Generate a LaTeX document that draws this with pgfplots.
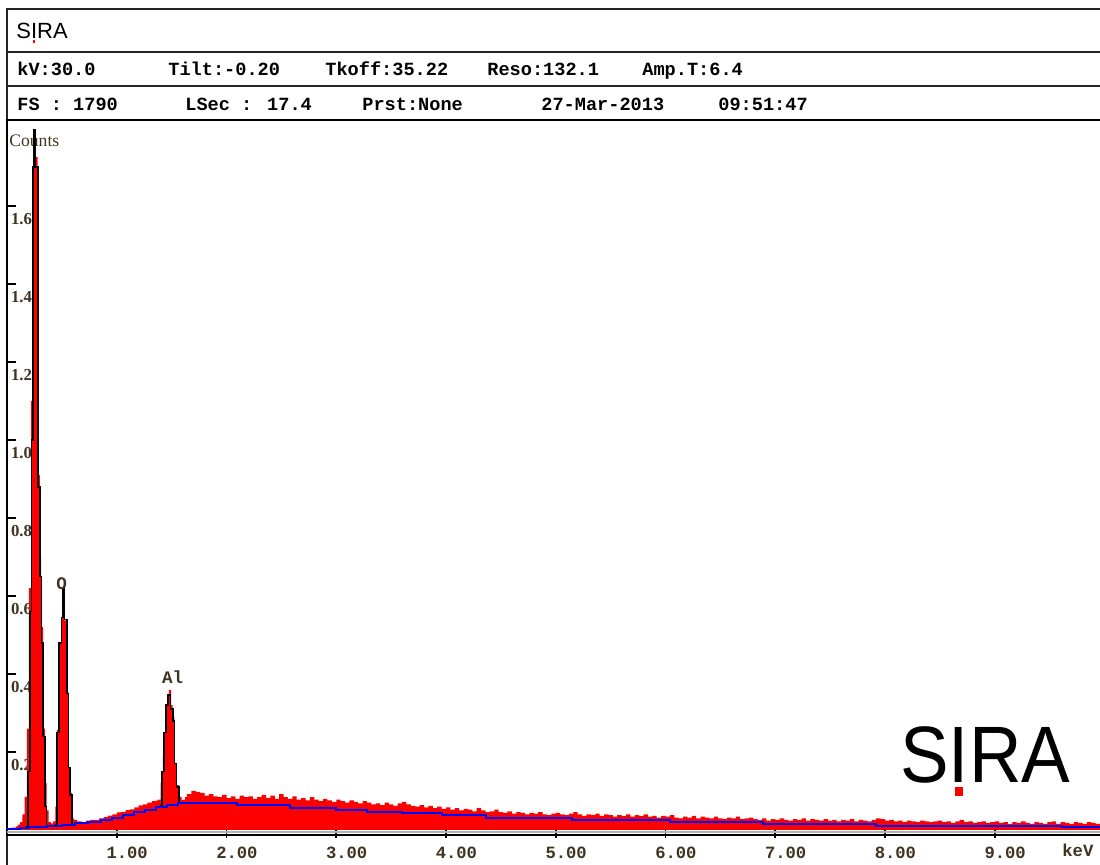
\documentclass[border=0pt]{standalone}
\usepackage{fontspec}
\usepackage{pgfplots}
\pgfplotsset{compat=1.18}
\setmainfont{Liberation Serif}
\newfontfamily\hdr{Liberation Mono}
\newfontfamily\logo{Liberation Sans}
\definecolor{lbl}{RGB}{62,52,34}

% SIRA word mark, red square under the I
\newcommand\siraword[1]{{\logo\fontsize{#1}{#1}\selectfont S\makebox[0pt][l]{\hspace{0.085em}\raisebox{-0.16em}{\color{red}\rule{0.11em}{0.11em}}}IRA}}

% measured spectrum (keV, counts), step histogram
\pgfplotstableread{
x y
0.00 4
0.04 6
0.08 9
0.10 14
0.12 20
0.14 40
0.16 85
0.18 260
0.20 620
0.22 1100
0.24 1725
0.28 910
0.30 700
0.31 520
0.33 260
0.345 120
0.36 50
0.38 20
0.40 17
0.42 22
0.44 60
0.455 256
0.475 482
0.495 545
0.51 600
0.525 537
0.545 354
0.56 162
0.575 95
0.59 30
0.61 26
0.64 22
0.68 20
0.72 24
0.76 26
0.80 25
0.84 30
0.88 33
0.92 37
0.96 40
1.00 45
1.04 46
1.08 51
1.12 53
1.16 58
1.20 63
1.24 66
1.28 70
1.32 74
1.36 76
1.38 78
1.40 120
1.42 192
1.44 274
1.46 341
1.475 359
1.495 320
1.51 290
1.525 172
1.545 115
1.565 85
1.59 77
1.62 84
1.64 92
1.68 100
1.72 98
1.76 95
1.80 88
1.84 92
1.88 86
1.92 84
1.96 90
2.00 82
2.04 86
2.08 80
2.12 88
2.16 84
2.20 86
2.24 80
2.28 84
2.32 90
2.36 82
2.40 88
2.44 80
2.48 92
2.52 84
2.56 80
2.60 86
2.64 78
2.68 82
2.72 76
2.76 84
2.80 78
2.84 74
2.88 80
2.92 76
2.96 72
3.00 78
3.04 74
3.08 70
3.12 76
3.16 72
3.20 68
3.24 74
3.28 70
3.32 66
3.36 68
3.40 64
3.44 70
3.48 66
3.52 62
3.56 68
3.60 72
3.64 66
3.68 62
3.72 60
3.76 64
3.80 58
3.84 62
3.88 56
3.92 60
3.96 54
4.00 58
4.04 52
4.08 56
4.12 50
4.16 54
4.20 52
4.24 48
4.28 56
4.32 50
4.36 46
4.40 48
4.44 52
4.48 46
4.52 44
4.56 48
4.60 42
4.64 46
4.68 44
4.72 40
4.76 44
4.80 42
4.84 46
4.88 40
4.92 38
4.96 42
5.00 44
5.04 40
5.08 38
5.12 42
5.16 46
5.20 40
5.24 36
5.28 40
5.32 38
5.36 42
5.40 36
5.44 40
5.48 38
5.52 34
5.56 38
5.60 36
5.64 40
5.68 34
5.72 38
5.76 36
5.80 40
5.84 34
5.88 36
5.92 32
5.96 36
6.00 34
6.04 38
6.08 32
6.12 30
6.16 34
6.20 32
6.24 36
6.28 30
6.32 34
6.36 32
6.40 30
6.44 34
6.48 30
6.52 28
6.56 32
6.60 30
6.64 34
6.68 28
6.72 30
6.76 32
6.80 28
6.84 26
6.88 30
6.92 24
6.96 28
7.00 26
7.04 30
7.08 26
7.12 24
7.16 28
7.20 26
7.24 30
7.28 24
7.32 28
7.36 26
7.40 24
7.44 28
7.48 24
7.52 26
7.56 22
7.60 26
7.64 24
7.68 28
7.72 22
7.76 26
7.80 24
7.84 22
7.88 26
7.92 30
7.96 28
8.00 24
8.04 26
8.08 22
8.12 24
8.16 20
8.20 24
8.24 22
8.28 20
8.32 24
8.36 22
8.40 20
8.44 22
8.48 24
8.52 20
8.56 22
8.60 18
8.64 22
8.68 26
8.72 20
8.76 22
8.80 18
8.84 20
8.88 22
8.92 18
8.96 20
9.00 22
9.04 18
9.08 20
9.12 16
9.16 20
9.20 18
9.24 22
9.28 18
9.32 16
9.36 20
9.40 18
9.44 16
9.48 20
9.52 22
9.56 16
9.60 20
9.64 18
9.68 16
9.72 20
9.76 18
9.80 16
9.84 20
9.88 18
9.92 16
9.96 18
10.09 18
}\spec

\begin{document}
\begin{tikzpicture}[x=0.5pt,y=0.5pt,
  hd/.style={anchor=base west, inner sep=0pt, font=\hdr\bfseries\fontsize{9.3}{10}\selectfont}]
\useasboundingbox (0,0) rectangle (1100,865);

% header frame
\draw[line width=1pt, black!85] (1120,856) -- (7,856) -- (7,-15);
\foreach \yy in {813,779,745} \draw[line width=1pt, black!85] (7,\yy) -- (1120,\yy);

\node[anchor=base west, inner sep=0pt] at (16,826) {\siraword{11}};

\node[hd] at (17,789) {kV:30.0};
\node[hd] at (168,789) {Tilt:-0.20};
\node[hd] at (325,789) {Tkoff:35.22};
\node[hd] at (487,789) {Reso:132.1};
\node[hd] at (642,789) {Amp.T:6.4};

\node[hd] at (17,754) {FS : 1790};
\node[hd] at (185,754) {LSec : 17.4};
\node[hd] at (362,754) {Prst:None};
\node[hd] at (541,754) {27-Mar-2013};
\node[hd] at (718,754) {09:51:47};

\node[anchor=base west, inner sep=0pt, text=lbl, font=\fontsize{8.8}{10}\selectfont] at (9,718) {Counts};

\begin{axis}[
  at={(3.5pt,15pt)}, anchor=south west,
  scale only axis, width=553.7pt, height=357.5pt,
  xmin=0, xmax=10.09, ymin=-12.8, ymax=1820.5,
  axis line style={black, line width=1.1pt},
  xtick={1,...,9},
  xticklabels={1.00,2.00,3.00,4.00,5.00,6.00,7.00,8.00,9.00},
  ytick={200,400,...,1600},
  yticklabels={0.2,0.4,0.6,0.8,1.0,1.2,1.4,1.6},
  xtick pos=bottom, ytick pos=left,
  tick align=inside, major tick length=4.5pt,
  tick style={black, line width=0.9pt},
  major x tick style={yshift=-1.6pt},
  xticklabel style={font=\hdr\bfseries\fontsize{8.6}{10}\selectfont, text=lbl,
    anchor=north, inner sep=0pt, xshift=5.2pt, yshift=-6pt},
  yticklabel style={font=\bfseries\fontsize{8.4}{10}\selectfont, text=lbl,
    anchor=north west, inner sep=0pt, xshift=1.8pt, yshift=-3.5pt},
]
\addplot[const plot, fill=red, draw=none] table {\spec} \closedcycle;
% fitted peaks
\addplot[const plot, black, line width=0.8pt] coordinates {
  (0.17,8) (0.19,150) (0.21,560) (0.225,1000) (0.235,1700) (0.245,1795)
  (0.255,1700) (0.28,880) (0.30,650) (0.315,480) (0.33,240) (0.345,60)
  (0.36,10) (0.37,10)};
\addplot[const plot, black, line width=0.8pt] coordinates {
  (0.44,13) (0.455,250) (0.475,480) (0.495,545) (0.51,620) (0.525,540)
  (0.545,350) (0.56,160) (0.575,90) (0.59,14) (0.61,14)};
\addplot[const plot, black, line width=0.8pt] coordinates {
  (1.39,62) (1.41,150) (1.43,250) (1.45,320) (1.465,346) (1.49,310)
  (1.51,280) (1.525,170) (1.545,110) (1.565,69) (1.58,69)};
% background
\addplot[const plot, blue, line width=1pt] coordinates {
  (0.00,2) (0.12,5) (0.20,8) (0.36,11) (0.50,13) (0.62,17) (0.74,21)
  (0.86,26) (0.96,32) (1.06,38) (1.16,45) (1.26,52) (1.36,60) (1.46,65)
  (1.56,69) (2.10,63) (2.58,57) (3.00,52) (3.28,47) (3.60,44) (3.96,38)
  (4.36,31) (5.15,26) (6.04,21) (6.89,15) (7.92,10) (9.61,8) (10.09,8)};
\node[font=\hdr\bfseries\fontsize{8.8}{10}\selectfont, text=lbl] at (0.499,631) {O};
\node[font=\hdr\bfseries\fontsize{8.8}{10}\selectfont, text=lbl] at (1.51,392) {Al};
\end{axis}

\draw[black!30, line width=1pt] (7,33) -- (1120,33);
\node[anchor=base west, inner sep=0pt, font=\hdr\bfseries\fontsize{8.6}{10}\selectfont, text=lbl] at (1062,8) {keV};
\node[anchor=base west, inner sep=0pt, xscale=0.91] at (900,82) {\siraword{40}};
\end{tikzpicture}
\end{document}
